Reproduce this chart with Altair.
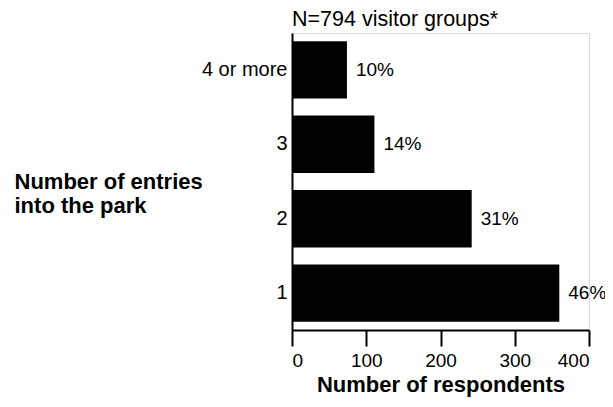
import altair as alt
import pandas as pd

categories = ["4 or more", "3", "2", "1"]
counts = [74, 111, 242, 360]
pct_labels = ["10%", "14%", "31%", "46%"]
x_ticks = [0, 100, 200, 300, 400]
chart_title = "N=794 visitor groups*"

df = pd.DataFrame({"entries": categories, "count": counts, "pct": pct_labels})
title_df = pd.DataFrame({"t": [chart_title]})

FONT = "Liberation Sans"

y_enc = alt.Y(
    "entries:N",
    sort=categories,
    scale=alt.Scale(paddingInner=0.23, paddingOuter=0.11),
    axis=alt.Axis(
        title=["Number of entries", "into the park"],
        titleAngle=0,
        titleAlign="left",
        titleBaseline="alphabetic",
        titleX=-278,
        titleY=155,
        titleFontSize=22,
        titleFontWeight="bold",
        titleFont=FONT,
        titleColor="black",
        titleLineHeight=24,
        labelFontSize=20,
        labelFont=FONT,
        labelColor="black",
        labelPadding=5,
        ticks=False,
        domainColor="black",
        domainWidth=2,
    ),
)

x_enc = alt.X(
    "count:Q",
    scale=alt.Scale(domain=[0, 400], nice=False),
    axis=alt.Axis(
        values=x_ticks,
        title="Number of respondents",
        titleFontSize=22,
        titleFontWeight="bold",
        titleFont=FONT,
        titleColor="black",
        titlePadding=4,
        labelFontSize=19,
        labelFont=FONT,
        labelColor="black",
        labelPadding=5,
        tickSize=16,
        tickWidth=2,
        tickColor="black",
        domainColor="black",
        domainWidth=2,
        grid=False,
    ),
)

bars = alt.Chart(df).mark_bar(color="black").encode(x=x_enc, y=y_enc)

labels = alt.Chart(df).mark_text(
    align="left", baseline="middle", dx=9, fontSize=19, font=FONT, color="black"
).encode(
    x=alt.X("count:Q"),
    y=alt.Y("entries:N", sort=categories),
    text="pct:N",
)

title_text = alt.Chart(title_df).mark_text(
    align="left", baseline="alphabetic", fontSize=21.5, font=FONT, color="black"
).encode(
    x=alt.value(0),
    y=alt.value(-7),
    text="t:N",
)

chart = (
    alt.layer(bars, labels, title_text)
    .properties(
        width=297,
        height=297,
        padding={"left": 284, "top": 25, "right": 16, "bottom": 69},
        autosize="none",
    )
    .configure_view(stroke=None)
    .configure(background="white")
)

chart.save("out.html", embed_options={"renderer": "svg", "actions": False})
